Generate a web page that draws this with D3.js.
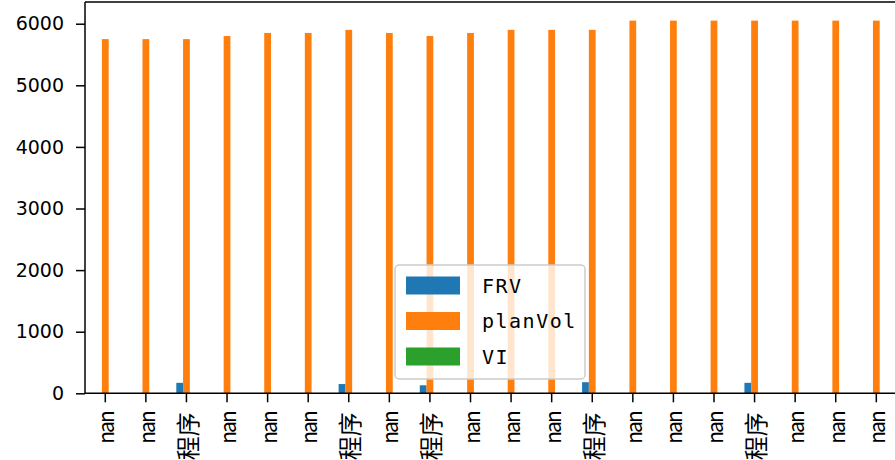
<!DOCTYPE html>
<html>
<head>
<meta charset="utf-8">
<script src="https://cdn.jsdelivr.net/npm/d3@7"></script>
<style>
  html, body { margin: 0; padding: 0; background: #fff; }
  svg { display: block; }
</style>
</head>
<body>
<svg id="chart" width="895" height="460"></svg>
<script>
const categories = ["nan","nan","程序","nan","nan","nan","程序","nan","程序","nan","nan","nan","程序","nan","nan","nan","程序","nan","nan","nan"];
const FRV =     [0,0,170,0,0,0,150,0,130,0,0,0,180,0,0,0,170,0,0,0];
const planVol = [5750,5750,5750,5800,5850,5850,5900,5850,5800,5850,5900,5900,5900,6050,6050,6050,6050,6050,6050,6050];
const VI =      [0,0,0,0,0,0,0,0,0,0,0,0,0,0,0,0,0,0,0,0];
const yTicks = [0,1000,2000,3000,4000,5000,6000];
const seriesNames = ["FRV","planVol","VI"];
const seriesColors = ["#1f77b4","#ff7f0e","#2ca02c"];
const seriesData = [FRV, planVol, VI];

const svg = d3.select("#chart");
const L = 85, T = 2, B = 393.3, step = 40.58;
const R = L + step * categories.length;

const x = d3.scaleBand().domain(d3.range(categories.length)).range([L, R]).paddingInner(0).paddingOuter(0);
const ymax = d3.max(planVol) * 1.05;
const y = d3.scaleLinear().domain([0, ymax]).range([B, T]);
const bw = x.bandwidth() * 0.5 / seriesNames.length;

// bars
seriesData.forEach((vals, si) => {
  svg.append("g").selectAll("rect").data(vals).join("rect")
    .attr("x", (d, i) => x(i) + x.bandwidth() / 2 + (si - 1) * bw - bw / 2)
    .attr("width", bw)
    .attr("y", d => y(d))
    .attr("height", d => y(0) - y(d))
    .attr("fill", seriesColors[si]);
});

// y axis
const yAxis = svg.append("g").attr("transform", `translate(${L},0)`)
  .call(d3.axisLeft(y).tickValues(yTicks).tickSize(9).tickPadding(12).tickFormat(d3.format("d")));
yAxis.select(".domain").remove();
yAxis.selectAll(".tick line").attr("stroke", "#000").attr("stroke-width", 1.5);
yAxis.selectAll(".tick text").attr("font-family", "DejaVu Sans, sans-serif").attr("font-size", 19).attr("fill", "#000");

// x axis
const xAxis = svg.append("g").attr("transform", `translate(0,${B})`)
  .call(d3.axisBottom(x).tickSize(9).tickFormat(i => categories[i]));
xAxis.select(".domain").remove();
xAxis.selectAll(".tick line").attr("stroke", "#000").attr("stroke-width", 1.5);
xAxis.selectAll(".tick text")
  .attr("font-family", "'Noto Sans CJK SC', sans-serif")
  .attr("font-size", d => categories[d] === "nan" ? 21 : 24)
  .attr("fill", "#000")
  .attr("letter-spacing", d => categories[d] === "nan" ? "-2px" : "0px")
  .attr("text-anchor", "end")
  .attr("dy", null)
  .attr("y", null)
  .attr("dominant-baseline", "central")
  .attr("transform", "translate(0,19) rotate(-90)");

// spines
const sp = svg.append("g").attr("stroke", "#000").attr("stroke-width", 1.5).attr("fill", "none");
sp.append("line").attr("x1", L).attr("x2", L).attr("y1", T).attr("y2", B);
sp.append("line").attr("x1", R).attr("x2", R).attr("y1", T).attr("y2", B);
sp.append("line").attr("x1", L).attr("x2", R).attr("y1", T).attr("y2", T);
sp.append("line").attr("x1", L).attr("x2", R).attr("y1", B).attr("y2", B);

// legend
const lg = svg.append("g");
lg.append("rect").attr("x", 395).attr("y", 265).attr("width", 190).attr("height", 114)
  .attr("rx", 4).attr("fill", "#fff").attr("fill-opacity", 0.8)
  .attr("stroke", "#cccccc").attr("stroke-width", 1.5);
seriesNames.forEach((n, i) => {
  const cy = 285.5 + i * 35.5;
  lg.append("rect").attr("x", 406).attr("y", cy - 9).attr("width", 54).attr("height", 18).attr("fill", seriesColors[i]);
  lg.append("text").attr("x", 482).attr("y", cy).attr("dominant-baseline", "central")
    .attr("font-family", "'DejaVu Sans Mono', monospace").attr("font-size", 20)
    .attr("letter-spacing", "1.5px").attr("fill", "#000").text(n);
});
</script>
</body>
</html>
